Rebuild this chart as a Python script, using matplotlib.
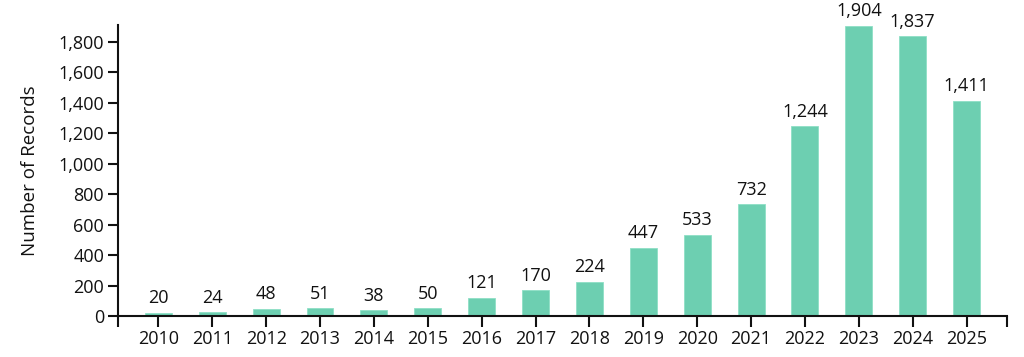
import matplotlib
matplotlib.use("Agg")
import matplotlib.pyplot as plt
from matplotlib.ticker import FuncFormatter, FixedLocator

years = ["2010", "2011", "2012", "2013", "2014", "2015", "2016", "2017",
         "2018", "2019", "2020", "2021", "2022", "2023", "2024", "2025"]
records = [20, 24, 48, 51, 38, 50, 121, 170, 224, 447, 533, 732, 1244, 1904, 1837, 1411]
yticks = [0, 200, 400, 600, 800, 1000, 1200, 1400, 1600, 1800]

plt.rcParams['font.family'] = ['Open Sans', 'DejaVu Sans']

fig = plt.figure(figsize=(10.24, 3.57), dpi=100)
ax = fig.add_axes([0.1152, 0.1148, 0.8682, 0.8152])

x = list(range(len(years)))
bars = ax.bar(x, records, width=0.5, color="#6dcfb1", edgecolor="#8ee0c6", linewidth=0.6, zorder=2)
for xi, v in zip(x, records):
    ax.annotate(f"{v:,}", (xi, v), xytext=(0, 4), textcoords="offset points",
                ha="center", va="bottom", fontsize=13, color="#111111", clip_on=False)

ax.set_xlim(-0.75, len(years) - 0.25)
ax.set_ylim(0, 1910)
ax.set_xticks(x)
ax.set_xticklabels(years)
ax.xaxis.set_minor_locator(FixedLocator([-0.75, len(years) - 0.25]))
ax.set_yticks(yticks)
ax.yaxis.set_major_formatter(FuncFormatter(lambda v, p: f"{int(v):,}"))

for s in ["top", "right"]:
    ax.spines[s].set_visible(False)
for s in ["left", "bottom"]:
    ax.spines[s].set_linewidth(1.5)
    ax.spines[s].set_color("#111111")

ax.tick_params(axis="x", which="both", length=8, width=1.5, color="#111111", labelsize=13, pad=2, labelcolor="#111111")
ax.tick_params(axis="y", length=7, width=1.5, color="#111111", labelsize=13, pad=3, labelcolor="#111111")
ax.set_ylabel("Number of Records", fontsize=13.5, color="#111111", labelpad=14)

fig.savefig("out.png", dpi=100)
